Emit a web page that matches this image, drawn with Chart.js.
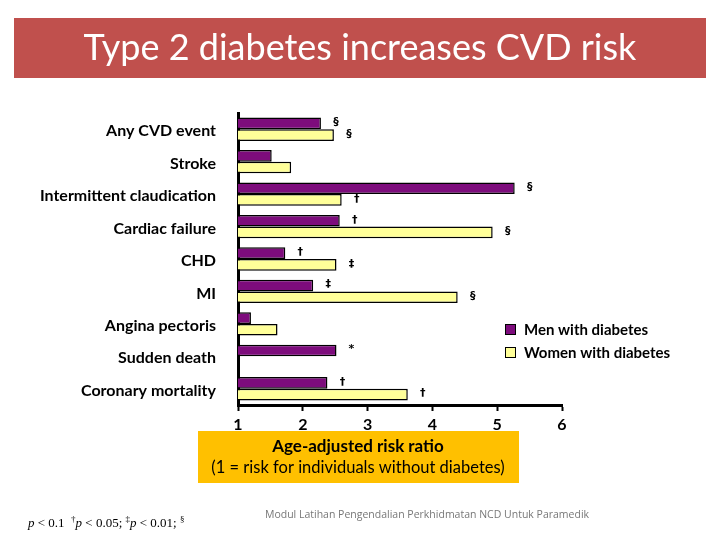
<!DOCTYPE html>
<html>
<head>
<meta charset="utf-8">
<script src="https://cdn.jsdelivr.net/npm/chart.js@4.4.1/dist/chart.umd.min.js"></script>
<style>
  html, body { margin: 0; padding: 0; background: #fff; }
  #wrap { width: 720px; height: 540px; position: relative; }
</style>
</head>
<body>
<div id="wrap"><canvas id="riskChart" width="720" height="540"></canvas></div>
<script>
// categories, top to bottom
const categories = ['Any CVD event', 'Stroke', 'Intermittent claudication', 'Cardiac failure',
  'CHD', 'MI', 'Angina pectoris', 'Sudden death', 'Coronary mortality'];
// age-adjusted risk ratios
const menRatio = [2.28, 1.52, 5.27, 2.57, 1.73, 2.16, 1.2, 2.52, 2.38];
const womenRatio = [2.48, 1.82, 2.6, 4.93, 2.52, 4.39, 1.61, null, 3.62];
// significance marks next to bars
const menMarks = ['§', '', '§', '†', '†', '‡', '', '*', '†'];
const womenMarks = ['§', '', '†', '§', '‡', '§', '', '', '†'];
const xTicks = [1, 2, 3, 4, 5, 6];

const seriesNames = ['Men with diabetes', 'Women with diabetes'];
const menColor = '#7D0C7C';
const womenColor = '#FFFF99';

const font = 'Lato, "Open Sans", sans-serif';

// draws banner, marks, legend, axis title box and footnotes
const decorations = {
  id: 'decorations',
  beforeDraw(chart) {
    const ctx = chart.ctx;
    ctx.save();
    ctx.fillStyle = '#C0504D';
    ctx.fillRect(14, 18, 692, 60);
    ctx.fillStyle = '#fff';
    ctx.font = '36px ' + font;
    ctx.textAlign = 'center';
    ctx.textBaseline = 'middle';
    ctx.fillText('Type 2 diabetes increases CVD risk', 360, 48);

    // axis title box
    ctx.fillStyle = '#FFC000';
    ctx.fillRect(198, 431, 321, 52);
    ctx.fillStyle = '#000';
    ctx.font = 'bold 17px ' + font;
    ctx.fillText('Age-adjusted risk ratio', 358, 447);
    ctx.font = '16.5px ' + font;
    ctx.fillText('(1 = risk for individuals without diabetes)', 358, 468);
    ctx.restore();
  },
  afterDatasetsDraw(chart) {
    const ctx = chart.ctx;
    ctx.save();
    ctx.fillStyle = '#000';
    ctx.font = 'bold 11px "DejaVu Sans", sans-serif';
    ctx.textAlign = 'center';
    ctx.textBaseline = 'middle';
    [menMarks, womenMarks].forEach((marks, di) => {
      const meta = chart.getDatasetMeta(di);
      meta.data.forEach((bar, i) => {
        if (!marks[i]) return;
        ctx.fillText(marks[i], bar.x + 15, bar.y - 1);
      });
    });

    // legend
    const colors = [menColor, womenColor];
    ctx.font = 'bold 15px ' + font;
    ctx.textAlign = 'left';
    seriesNames.forEach((name, i) => {
      const y = 324 + i * 23;
      ctx.fillStyle = colors[i];
      ctx.fillRect(505, y, 11, 11);
      ctx.strokeStyle = '#000';
      ctx.lineWidth = 1;
      ctx.strokeRect(505.5, y + 0.5, 10, 10);
      ctx.fillStyle = '#000';
      ctx.fillText(name, 524, y + 6);
    });

    // footnote
    let x = 28;
    const fy = 524;
    const parts = [
      ['italic 13px "Liberation Serif", serif', 'p'],
      ['13px "Liberation Serif", serif', ' < 0.1  '],
      ['9px "Liberation Serif", serif', '†', -4],
      ['italic 13px "Liberation Serif", serif', 'p'],
      ['13px "Liberation Serif", serif', ' < 0.05; '],
      ['9px "Liberation Serif", serif', '‡', -4],
      ['italic 13px "Liberation Serif", serif', 'p'],
      ['13px "Liberation Serif", serif', ' < 0.01; '],
      ['9px "Liberation Serif", serif', '§', -4]
    ];
    parts.forEach(p => {
      ctx.font = p[0];
      ctx.fillText(p[1], x, fy + (p[2] || 0));
      x += ctx.measureText(p[1]).width;
    });

    ctx.fillStyle = '#777';
    ctx.font = '10.5px "Open Sans", sans-serif';
    ctx.textAlign = 'center';
    ctx.fillText('Modul Latihan Pengendalian Perkhidmatan NCD Untuk Paramedik', 427, 515);
    ctx.restore();
  }
};

new Chart(document.getElementById('riskChart'), {
  type: 'bar',
  data: {
    labels: categories,
    datasets: [
      {
        label: seriesNames[0],
        data: menRatio,
        backgroundColor: menColor,
        borderColor: '#000',
        borderWidth: 1.5,
        borderSkipped: false
      },
      {
        label: seriesNames[1],
        data: womenRatio,
        backgroundColor: womenColor,
        borderColor: '#000',
        borderWidth: 1.5,
        borderSkipped: false
      }
    ]
  },
  options: {
    indexAxis: 'y',
    responsive: false,
    animation: false,
    barPercentage: 1,
    categoryPercentage: 0.72,
    layout: { padding: { left: 10, right: 158, top: 113, bottom: 105 } },
    plugins: {
      legend: { display: false },
      tooltip: { enabled: false }
    },
    scales: {
      x: {
        min: 1,
        max: 6,
        afterBuildTicks(scale) {
          scale.ticks = xTicks.map(v => ({ value: v }));
        },
        afterFit(scale) { scale.height = 30; },
        grid: {
          drawOnChartArea: false,
          tickLength: 6,
          tickColor: '#000',
          tickWidth: 2
        },
        border: { color: '#000', width: 3 },
        ticks: {
          color: '#000',
          font: { family: font, size: 16, weight: 'bold' },
          padding: 4
        }
      },
      y: {
        afterFit(scale) { scale.width = 228; },
        grid: { drawOnChartArea: false, drawTicks: false },
        border: { color: '#000', width: 3 },
        ticks: {
          color: '#000',
          font: { family: font, size: 16, weight: 'bold' },
          padding: 22,
          labelOffset: 2
        }
      }
    }
  },
  plugins: [decorations]
});
</script>
</body>
</html>
